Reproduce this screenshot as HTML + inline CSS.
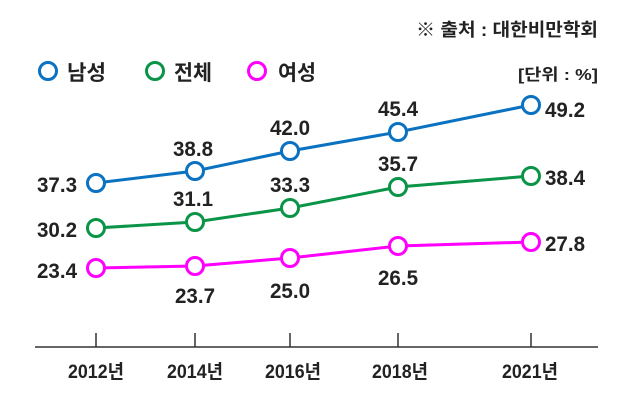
<!DOCTYPE html>
<html><head><meta charset="utf-8"><style>
html,body{margin:0;padding:0;background:#fff;width:638px;height:400px;overflow:hidden}
text{font-family:"Liberation Sans","Noto Sans CJK KR",sans-serif;font-weight:bold;fill:#222}
</style></head><body>
<svg width="638" height="400" viewBox="0 0 638 400" xmlns="http://www.w3.org/2000/svg">
<text x="416" y="36" font-size="18" textLength="182" lengthAdjust="spacingAndGlyphs">※ 출처 : 대한비만학회</text>
<text x="518" y="80" font-size="16" textLength="80" lengthAdjust="spacingAndGlyphs" font-weight="normal">[단위 : %]</text>
<g fill="#fff" stroke-width="3">
<circle cx="48" cy="71" r="8.5" stroke="#0a72c0"/>
<circle cx="155" cy="71" r="8.5" stroke="#0a9447"/>
<circle cx="257" cy="71" r="8.5" stroke="#ff00ff"/>
</g>
<text x="67" y="80" font-size="21" textLength="39" lengthAdjust="spacingAndGlyphs">남성</text>
<text x="174" y="80" font-size="21" textLength="38" lengthAdjust="spacingAndGlyphs">전체</text>
<text x="278" y="80" font-size="21" textLength="38" lengthAdjust="spacingAndGlyphs">여성</text>
<line x1="35" y1="347" x2="598" y2="347" stroke="#333" stroke-width="1.5"/>
<g stroke="#333" stroke-width="1.5">
<line x1="96" y1="333" x2="96" y2="347"/><line x1="195" y1="333" x2="195" y2="347"/><line x1="290" y1="333" x2="290" y2="347"/><line x1="398" y1="333" x2="398" y2="347"/><line x1="531" y1="333" x2="531" y2="347"/>
</g>
<g font-size="19" text-anchor="middle">
<text x="96" y="378" textLength="56" lengthAdjust="spacingAndGlyphs">2012년</text>
<text x="195" y="378" textLength="56" lengthAdjust="spacingAndGlyphs">2014년</text>
<text x="293" y="378" textLength="56" lengthAdjust="spacingAndGlyphs">2016년</text>
<text x="400" y="378" textLength="56" lengthAdjust="spacingAndGlyphs">2018년</text>
<text x="530" y="378" textLength="56" lengthAdjust="spacingAndGlyphs">2021년</text>
</g>
<polyline points="96,183 195,171 290,151 398,132 531,105" fill="none" stroke="#0a72c0" stroke-width="3"/>
<polyline points="96,228 195,222 290,208 398,187 531,176" fill="none" stroke="#0a9447" stroke-width="3"/>
<polyline points="96,268 195,266 290,258 398,246 531,242" fill="none" stroke="#ff00ff" stroke-width="3"/>
<g fill="#fff" stroke-width="3">
<g stroke="#0a72c0"><circle cx="96" cy="183" r="8.5"/><circle cx="195" cy="171" r="8.5"/><circle cx="290" cy="151" r="8.5"/><circle cx="398" cy="132" r="8.5"/><circle cx="531" cy="105" r="8.5"/></g>
<g stroke="#0a9447"><circle cx="96" cy="228" r="8.5"/><circle cx="195" cy="222" r="8.5"/><circle cx="290" cy="208" r="8.5"/><circle cx="398" cy="187" r="8.5"/><circle cx="531" cy="176" r="8.5"/></g>
<g stroke="#ff00ff"><circle cx="96" cy="268" r="8.5"/><circle cx="195" cy="266" r="8.5"/><circle cx="290" cy="258" r="8.5"/><circle cx="398" cy="246" r="8.5"/><circle cx="531" cy="242" r="8.5"/></g>
</g>
<g font-size="21" text-anchor="middle">
<text x="57" y="192" textLength="40" lengthAdjust="spacingAndGlyphs">37.3</text>
<text x="193" y="156" textLength="40" lengthAdjust="spacingAndGlyphs">38.8</text>
<text x="290" y="135" textLength="40" lengthAdjust="spacingAndGlyphs">42.0</text>
<text x="398" y="116" textLength="40" lengthAdjust="spacingAndGlyphs">45.4</text>
<text x="565" y="117" textLength="40" lengthAdjust="spacingAndGlyphs">49.2</text>
<text x="57" y="237" textLength="40" lengthAdjust="spacingAndGlyphs">30.2</text>
<text x="193" y="206" textLength="40" lengthAdjust="spacingAndGlyphs">31.1</text>
<text x="290" y="192" textLength="40" lengthAdjust="spacingAndGlyphs">33.3</text>
<text x="398" y="171" textLength="40" lengthAdjust="spacingAndGlyphs">35.7</text>
<text x="565" y="185" textLength="40" lengthAdjust="spacingAndGlyphs">38.4</text>
<text x="57" y="278" textLength="40" lengthAdjust="spacingAndGlyphs">23.4</text>
<text x="195" y="303" textLength="40" lengthAdjust="spacingAndGlyphs">23.7</text>
<text x="290" y="298" textLength="40" lengthAdjust="spacingAndGlyphs">25.0</text>
<text x="398" y="285" textLength="40" lengthAdjust="spacingAndGlyphs">26.5</text>
<text x="565" y="251" textLength="40" lengthAdjust="spacingAndGlyphs">27.8</text>
</g>
</svg>
</body></html>
